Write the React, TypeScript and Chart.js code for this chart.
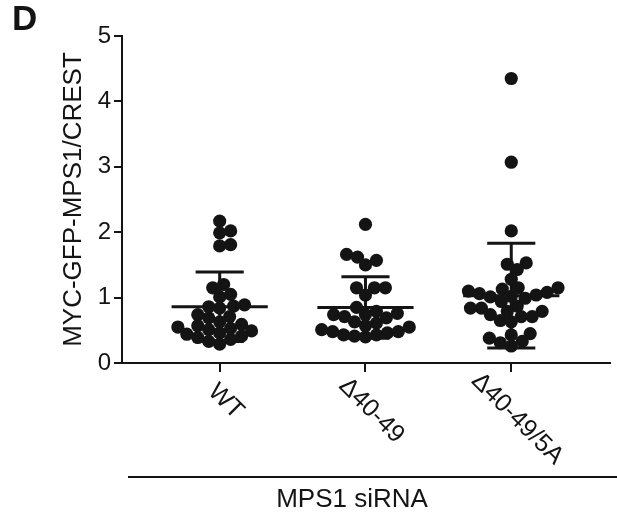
import React, { useEffect, useRef } from "react";
import { Chart, registerables } from "chart.js";

Chart.register(...registerables);

// ---- data ----
const categories = ["WT", "\u039440-49", "\u039440-49/5A"];
const groupTitle = "MPS1 siRNA";
const yTitle = "MYC-GFP-MPS1/CREST";
const panelLetter = "D";
const yTicks = [0, 1, 2, 3, 4, 5];

const wtValues = [
  2.17, 2.02, 1.99, 1.81, 1.79, 1.2, 1.15, 1.05, 1.01, 0.89, 0.87, 0.86, 0.84, 0.74, 0.71,
  0.69, 0.63, 0.59, 0.57, 0.55, 0.53, 0.51, 0.49, 0.46, 0.44, 0.41, 0.39, 0.36, 0.33, 0.29,
];
const d4049Values = [
  2.12, 1.66, 1.62, 1.57, 1.5, 1.15, 1.15, 1.15, 1.04, 0.85, 0.79, 0.76, 0.74, 0.74, 0.71,
  0.69, 0.63, 0.61, 0.57, 0.55, 0.51, 0.48, 0.46, 0.43, 0.43, 0.4, 0.41, 0.48,
];
const d40495AValues = [
  4.35, 3.07, 2.02, 1.53, 1.51, 1.43, 1.28, 1.15, 1.15, 1.13, 1.1, 1.08, 1.06, 1.04, 1.02,
  1.01, 0.99, 0.94, 0.87, 0.84, 0.84, 0.79, 0.79, 0.74, 0.71, 0.71, 0.65, 0.63, 0.45, 0.43,
  0.38, 0.33, 0.31, 0.26,
];
const means = [0.86, 0.85, 1.03];
const sds = [0.53, 0.47, 0.8];

const FONT = '"Liberation Sans", Arial, Helvetica, sans-serif';
const INK = "#141414";

// deterministic beeswarm spreading (pixel-approximate units)
function swarmOffsets(values: number[], pxPerX: number, pxPerY: number, minDist: number): number[] {
  const order = values.map((_, i) => i).sort((a, b) => values[a] - values[b]);
  const placed: { x: number; y: number }[] = [];
  const out = new Array(values.length).fill(0);
  let flip = 1;
  for (const i of order) {
    const y = values[i] * pxPerY;
    let best = 0;
    for (let k = 0; k < 400; k++) {
      const step = Math.ceil(k / 2);
      const cand = k === 0 ? 0 : (k % 2 === 1 ? flip : -flip) * step;
      if (placed.every((p) => Math.hypot(p.x - cand, p.y - y) >= minDist)) {
        best = cand;
        break;
      }
    }
    flip = -flip;
    placed.push({ x: best, y });
    out[i] = best / pxPerX;
  }
  return out;
}

const groups = [wtValues, d4049Values, d40495AValues];

export default function App() {
  const ref = useRef<HTMLCanvasElement | null>(null);

  useEffect(() => {
    if (!ref.current) return;
    const pxPerX = 146.5;
    const pxPerY = 65.3;
    const pts: { x: number; y: number }[] = [];
    groups.forEach((vals, gi) => {
      const offs = swarmOffsets(vals, pxPerX, pxPerY, 11);
      vals.forEach((v, j) => pts.push({ x: gi + 1 + offs[j], y: v }));
    });

    const errorBars = {
      id: "errorBars",
      afterDatasetsDraw(chart: any) {
        const { ctx, scales } = chart;
        const xs = scales.x;
        const ys = scales.y;
        ctx.save();
        ctx.strokeStyle = INK;
        ctx.lineWidth = 3;
        ctx.lineCap = "butt";
        means.forEach((m, i) => {
          const cx = xs.getPixelForValue(i + 1);
          const halfMean = xs.getPixelForValue(i + 1 + 0.33) - cx;
          const halfCap = xs.getPixelForValue(i + 1 + 0.165) - cx;
          const my = ys.getPixelForValue(m);
          const ty = ys.getPixelForValue(m + sds[i]);
          const by = ys.getPixelForValue(Math.max(0, m - sds[i]));
          ctx.beginPath();
          ctx.moveTo(cx - halfMean, my);
          ctx.lineTo(cx + halfMean, my);
          ctx.moveTo(cx, ty);
          ctx.lineTo(cx, by);
          ctx.moveTo(cx - halfCap, ty);
          ctx.lineTo(cx + halfCap, ty);
          ctx.moveTo(cx - halfCap, by);
          ctx.lineTo(cx + halfCap, by);
          ctx.stroke();
        });
        ctx.restore();
      },
    };

    const annotations = {
      id: "annotations",
      afterDraw(chart: any) {
        const { ctx, scales, chartArea } = chart;
        const xs = scales.x;
        ctx.save();
        ctx.fillStyle = INK;
        // panel letter
        ctx.font = `bold 35px ${FONT}`;
        ctx.textAlign = "left";
        ctx.textBaseline = "alphabetic";
        ctx.fillText(panelLetter, 12, 30);
        // y title
        ctx.save();
        ctx.font = `26px ${FONT}`;
        ctx.translate(74, (chartArea.top + chartArea.bottom) / 2);
        ctx.rotate(-Math.PI / 2);
        ctx.textAlign = "center";
        ctx.textBaseline = "middle";
        ctx.fillText(yTitle, 0, 0);
        ctx.restore();
        // rotated category labels
        ctx.font = `25px ${FONT}`;
        categories.forEach((c, i) => {
          const tx = xs.getPixelForValue(i + 1);
          const L = ctx.measureText(c).width;
          const cx = tx + 6;
          const cy = chartArea.bottom + 30 + 0.22 * L;
          ctx.save();
          ctx.translate(cx, cy);
          ctx.rotate(Math.PI / 4);
          ctx.textAlign = "center";
          ctx.textBaseline = "middle";
          ctx.fillText(c, 0, 0);
          ctx.restore();
        });
        // grouping line and label
        ctx.strokeStyle = INK;
        ctx.lineWidth = 2;
        ctx.beginPath();
        ctx.moveTo(128, 477);
        ctx.lineTo(617, 477);
        ctx.stroke();
        ctx.font = `26px ${FONT}`;
        ctx.textAlign = "center";
        ctx.textBaseline = "middle";
        ctx.fillText(groupTitle, 352, 500);
        ctx.restore();
      },
    };

    const chart = new Chart(ref.current, {
      type: "scatter",
      data: {
        datasets: [
          {
            data: pts,
            pointRadius: 6.6,
            pointHoverRadius: 6.6,
            backgroundColor: INK,
            borderWidth: 0,
          },
        ],
      },
      options: {
        animation: false,
        responsive: false,
        devicePixelRatio: 1,
        layout: { padding: { left: 0, top: 36, right: 5, bottom: 0 } },
        plugins: { legend: { display: false }, tooltip: { enabled: false } },
        events: [],
        scales: {
          x: {
            type: "linear",
            min: 0.33,
            max: 3.68,
            afterBuildTicks: (s: any) => {
              s.ticks = [1, 2, 3].map((v) => ({ value: v }));
            },
            afterFit: (s: any) => {
              s.height = 157;
            },
            ticks: { display: false },
            grid: {
              display: true,
              drawOnChartArea: false,
              drawTicks: true,
              tickLength: 9,
              color: INK,
              lineWidth: 2,
            },
            border: { display: true, color: INK, width: 2 },
          },
          y: {
            type: "linear",
            min: 0,
            max: 5,
            afterBuildTicks: (s: any) => {
              s.ticks = yTicks.map((v) => ({ value: v }));
            },
            afterFit: (s: any) => {
              s.width = 122;
            },
            ticks: {
              color: INK,
              padding: 3,
              font: { family: FONT, size: 24 },
            },
            grid: {
              display: true,
              drawOnChartArea: false,
              drawTicks: true,
              tickLength: 8,
              color: INK,
              lineWidth: 2,
            },
            border: { display: true, color: INK, width: 2 },
          },
        },
      },
      plugins: [errorBars, annotations],
    });
    return () => chart.destroy();
  }, []);

  return (
    <div style={{ position: "absolute", left: 0, top: 0, width: 617, height: 520, background: "#fff" }}>
      <canvas ref={ref} width={617} height={520} style={{ width: 617, height: 520 }} />
    </div>
  );
}
